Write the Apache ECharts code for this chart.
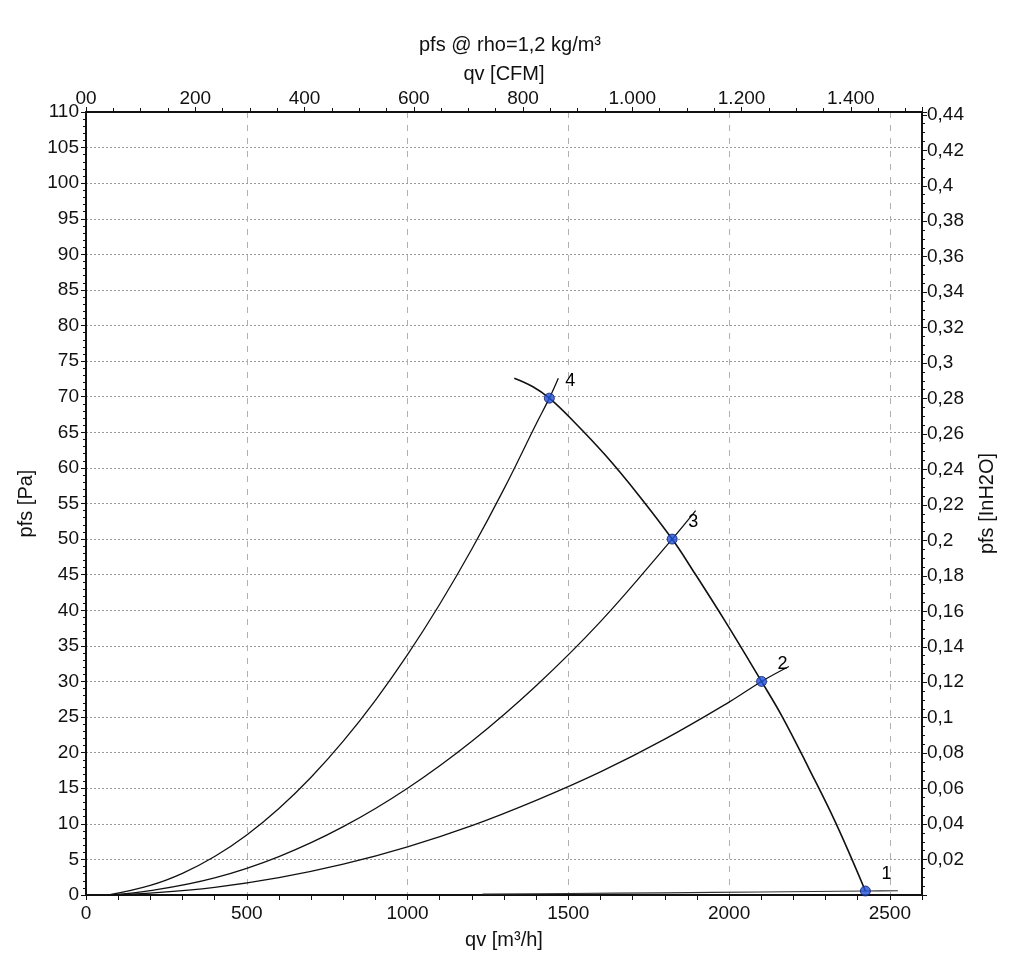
<!DOCTYPE html>
<html>
<head>
<meta charset="utf-8">
<script src="https://cdn.jsdelivr.net/npm/echarts@6/dist/echarts.min.js"></script>
<style>html,body{margin:0;padding:0;background:#fff}#c{width:1024px;height:972px}</style>
</head>
<body>
<div id="c"></div>
<script>
// ---- data ----
const fanQ = [1332, 1390, 1441, 1513, 1617, 1720, 1823, 1886, 1990, 2101, 2166, 2248, 2331, 2424];
const fanP = [72.6, 71.4, 69.8, 66.7, 61.7, 56.1, 50.0, 45.7, 38.3, 30.0, 25.0, 17.8, 10.2, 0.56];

const sys4Q = [70, 200, 300, 400, 500, 600, 700, 800, 900, 1000, 1100, 1200, 1300, 1400, 1441, 1469];
const sys4P = [0, 1.35, 3.04, 5.4, 8.44, 12.15, 16.54, 21.61, 27.35, 33.76, 40.85, 48.61, 57.05, 66.17, 69.8, 72.6];

const sys3Q = [70, 200, 400, 600, 800, 1000, 1200, 1400, 1600, 1823, 1896];
const sys3P = [0, 0.6, 2.4, 5.4, 9.6, 15.0, 21.6, 29.4, 38.4, 50.0, 54.0];

const sys2Q = [70, 200, 400, 600, 800, 1000, 1200, 1400, 1600, 1800, 2000, 2101, 2186];
const sys2P = [0, 0.27, 1.08, 2.44, 4.33, 6.77, 9.75, 13.3, 17.3, 21.9, 27.1, 30.0, 32.1];

const sys1Q = [1233, 1500, 1800, 2100, 2424, 2525];
const sys1P = [0.14, 0.21, 0.31, 0.42, 0.56, 0.6];

const opQ = [2424, 2101, 1823, 1441];
const opP = [0.56, 30.0, 50.0, 69.8];
const opLabels = ['1', '2', '3', '4'];

const titleText = 'pfs @ rho=1,2 kg/m³';
const xName = 'qv [m³/h]';
const xTopName = 'qv [CFM]';
const yName = 'pfs [Pa]';
const yRightName = 'pfs [InH2O]';

// unit conversions (axis scales)
const QMAX = 2600, PMAX = 110;
const M3H_PER_CFM = 1.699;
const INH2O_PER_PA = 0.0040146;

function pairs(q, p) { return q.map((v, i) => [v, p[i]]); }

const FONT = 'Liberation Sans, Arial, sans-serif';
const TICK_TXT = { color: '#111', fontSize: 19, fontFamily: FONT };
const NAME_TXT = { color: '#111', fontSize: 20, fontFamily: FONT };

const chart = echarts.init(document.getElementById('c'), null, { renderer: 'canvas' });

const lineBase = { type: 'line', showSymbol: false, symbol: 'none', xAxisIndex: 0, yAxisIndex: 0,
  lineStyle: { color: '#111', width: 1.3 }, animation: false, z: 3 };

const AXLINE = { show: true, onZero: false, lineStyle: { color: '#111', width: 2 } };

chart.setOption({
  animation: false,
  backgroundColor: '#fff',
  title: { text: titleText, left: 505, top: 30, textAlign: 'center',
    textStyle: { fontWeight: 'normal', fontSize: 20, color: '#111', fontFamily: FONT } },
  grid: { left: 86, right: 102, top: 112, bottom: 77, containLabel: false },
  xAxis: [
    { type: 'value', position: 'bottom', min: 0, max: QMAX, interval: 500,
      name: xName, nameLocation: 'middle', nameGap: 35, nameTextStyle: NAME_TXT,
      axisLine: AXLINE,
      axisTick: { show: true, length: 5, lineStyle: { color: '#111' } },
      minorTick: { show: true, splitNumber: 5, length: 5, lineStyle: { color: '#111' } },
      axisLabel: Object.assign({ margin: 9, formatter: v => (v % 500 === 0 ? String(v) : '') }, TICK_TXT),
      splitLine: { show: true, lineStyle: { color: '#b0b0b0', type: [6, 7], width: 1 } } },
    { type: 'value', position: 'top', min: 0, max: QMAX / M3H_PER_CFM, interval: 200,
      name: xTopName, nameLocation: 'middle', nameGap: 27, nameTextStyle: NAME_TXT,
      axisLine: AXLINE,
      axisTick: { show: true, length: 5, lineStyle: { color: '#111' } },
      minorTick: { show: true, splitNumber: 4, length: 4, lineStyle: { color: '#111' } },
      axisLabel: Object.assign({ margin: 4, formatter: v => {
        if (Math.abs(v % 200) > 0.001) return '';
        if (v === 0) return '00';
        return String(Math.round(v)).replace(/\B(?=(\d{3})+(?!\d))/g, '.');
      } }, TICK_TXT),
      splitLine: { show: false } }
  ],
  yAxis: [
    { type: 'value', position: 'left', min: 0, max: PMAX, interval: 5,
      name: yName, nameLocation: 'middle', nameGap: 37, nameRotate: 90, nameTextStyle: NAME_TXT,
      axisLine: AXLINE,
      axisTick: { show: true, length: 5, lineStyle: { color: '#111' } },
      minorTick: { show: true, splitNumber: 5, length: 3, lineStyle: { color: '#111' } },
      axisLabel: Object.assign({ margin: 7 }, TICK_TXT),
      splitLine: { show: true, lineStyle: { color: '#9a9a9a', type: [2, 2], width: 1 } } },
    { type: 'value', position: 'right', min: 0, max: PMAX * INH2O_PER_PA, interval: 0.02,
      name: yRightName, nameLocation: 'middle', nameGap: 55, nameRotate: 90, nameTextStyle: NAME_TXT,
      axisLine: AXLINE,
      axisTick: { show: true, length: 5, lineStyle: { color: '#111' } },
      minorTick: { show: true, splitNumber: 4, length: 3, lineStyle: { color: '#111' } },
      axisLabel: Object.assign({ margin: 5, formatter: v => {
        const r = Math.round(v / 0.02);
        if (r === 0 || Math.abs(v - r * 0.02) > 1e-6) return '';
        return String(parseFloat((r * 0.02).toFixed(2))).replace('.', ',');
      } }, TICK_TXT),
      splitLine: { show: false } }
  ],
  series: [
    Object.assign({}, lineBase, { name: 'sys4', smooth: 0.4, data: pairs(sys4Q, sys4P) }),
    Object.assign({}, lineBase, { name: 'sys3', smooth: 0.4, data: pairs(sys3Q, sys3P) }),
    Object.assign({}, lineBase, { name: 'sys2', smooth: 0.4, data: pairs(sys2Q, sys2P) }),
    Object.assign({}, lineBase, { name: 'sys1', smooth: 0.3, data: pairs(sys1Q, sys1P),
      lineStyle: { color: '#333', width: 1.2 } }),
    Object.assign({}, lineBase, { name: 'fan', smooth: 0.4, data: pairs(fanQ, fanP),
      lineStyle: { color: '#111', width: 1.6 } }),
    { type: 'scatter', name: 'op', xAxisIndex: 0, yAxisIndex: 0, z: 5,
      symbol: 'circle', symbolSize: 10,
      itemStyle: { color: '#2050d8', borderColor: '#0b1f6b', borderWidth: 1 },
      label: { show: true, position: 'inside', offset: [21, -17],
        formatter: p => opLabels[p.dataIndex], color: '#000', fontSize: 18, fontFamily: FONT,
        textBorderWidth: 0, opacity: 1 },
      data: pairs(opQ, opP) }
  ]
});
</script>
</body>
</html>
